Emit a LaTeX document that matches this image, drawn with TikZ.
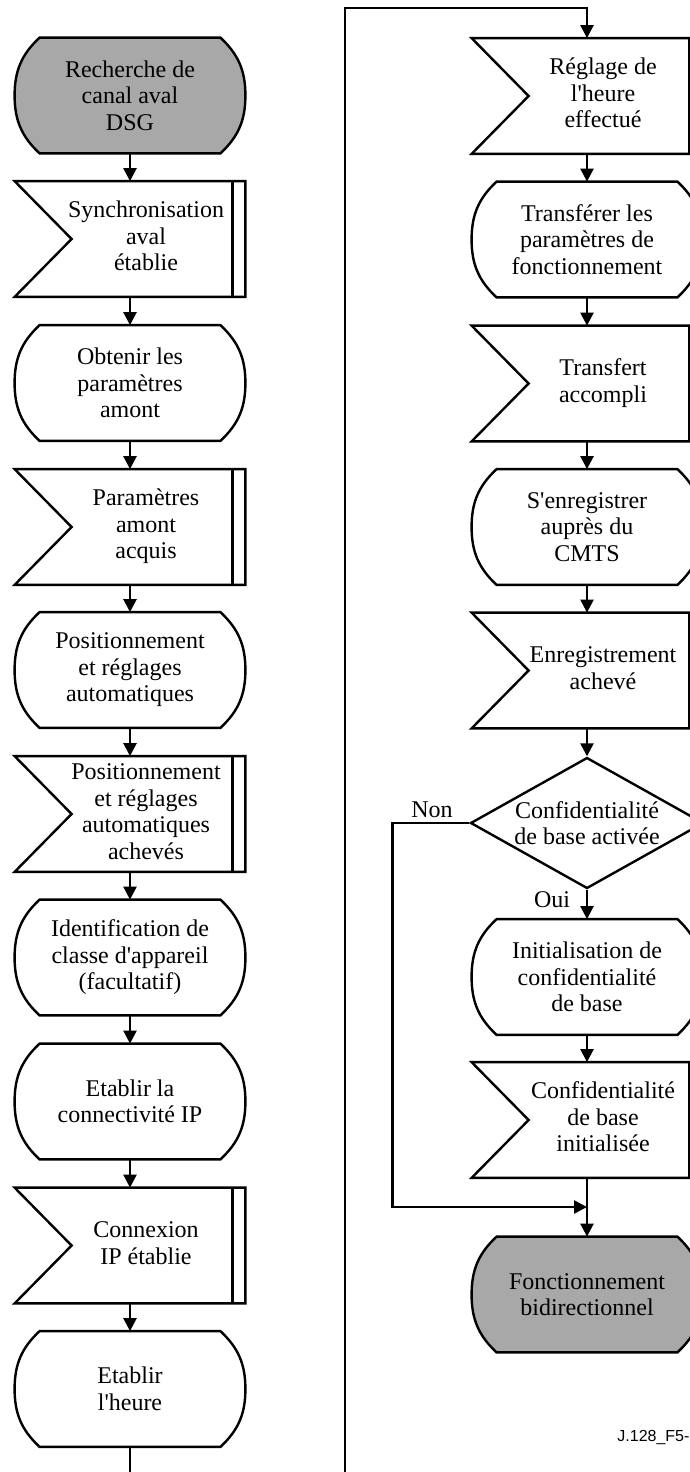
\documentclass[tikz,border=0pt]{standalone}
\usepackage{fontspec}
\setmainfont{Liberation Serif}[Ligatures=TeXOff]
\newfontfamily\figsans{Liberation Sans}
\usetikzlibrary{arrows.meta,shapes.geometric,backgrounds}
\definecolor{termgray}{RGB}{168,168,168}
% text of a receive box, pushed right of the notch
\newcommand{\rtext}[1]{\begin{tabular}{@{\hspace{16pt}}c@{}}#1\end{tabular}}
\tikzset{
  x=0.5pt, y=0.5pt,
  box/.style={rectangle, draw=none, minimum width=115pt, minimum height=57.5pt,
    inner sep=0pt, font=\fontsize{12}{13.25}\selectfont, align=center},
  flow/.style={line width=1.2pt, -{Triangle[width=6.5pt,length=6.5pt]}},
  outline/.style={line width=1.2pt, line join=miter},
  lbl/.style={font=\fontsize{12}{13.25}\selectfont, inner sep=0pt},
}
% terminal outline: flat top and bottom, bulging sides
\newcommand{\termshape}[2]{%
  \draw[outline, fill=#2] ([xshift=12.5pt]#1.north west) -- ([xshift=-12.5pt]#1.north east)
    to[out=-43,in=90] (#1.east) to[out=-90,in=43] ([xshift=-12.5pt]#1.south east)
    -- ([xshift=12.5pt]#1.south west) to[out=137,in=-90] (#1.west)
    to[out=90,in=-137] cycle;}
% receive outline: notched left side, double bar on the right
\newcommand{\recvshape}[1]{%
  \draw[outline, fill=white] (#1.north west) -- (#1.north east) -- (#1.south east)
    -- (#1.south west) -- ([xshift=28.5pt]#1.west) -- cycle;
  \draw[outline] ([xshift=-6.5pt]#1.north east) -- ([xshift=-6.5pt]#1.south east);}
\begin{document}
\begin{tikzpicture}
\useasboundingbox (0,0) rectangle (690,-1472);

% left column
\node[box] (t1) at (130,-95.5)  {Recherche de\\canal aval\\DSG};
\node[box] (r1) at (130,-239)   {\rtext{Synchronisation\\aval\\établie}};
\node[box] (t2) at (130,-383)   {Obtenir les\\paramètres\\amont};
\node[box] (r2) at (130,-527)   {\rtext{Paramètres\\amont\\acquis}};
\node[box] (t3) at (130,-670)   {Positionnement\\et réglages\\automatiques};
\node[box] (r3) at (130,-814)   {\rtext{Positionnement\\et réglages\\automatiques\\achevés}};
\node[box] (t4) at (130,-957.5) {Identification de\\classe d'appareil\\(facultatif)};
\node[box] (t5) at (130,-1101.5){Etablir la\\connectivité IP};
\node[box] (r4) at (130,-1245.5){\rtext{Connexion\\IP établie}};
\node[box] (t6) at (130,-1389)  {Etablir\\l'heure};

% right column
\node[box] (r5) at (587,-96)    {\rtext{Réglage de\\l'heure\\effectué}};
\node[box] (t7) at (587,-239.5) {Transférer les\\paramètres de\\fonctionnement};
\node[box] (r6) at (587,-383.5) {\rtext{Transfert\\accompli}};
\node[box] (t8) at (587,-527)   {S'enregistrer\\auprès du\\CMTS};
\node[box] (r7) at (587,-670.5) {\rtext{Enregistrement\\achevé}};
\node[diamond, draw, line width=1.2pt, fill=white, aspect=1.78,
      minimum width=116.5pt, minimum height=65.5pt, inner sep=0pt,
      font=\fontsize{12}{13.25}\selectfont, align=center]
      (dia) at (587,-823) {Confidentialité\\de base activée};
\node[box] (t9) at (587,-977)   {Initialisation de\\confidentialité\\de base};
\node[box] (r8) at (587,-1120)  {\rtext{Confidentialité\\de base\\initialisée}};
\node[box] (t10) at (587,-1294.5){Fonctionnement\\bidirectionnel};

\node[lbl] (non) at (432,-810) {Non};
\node[lbl] (oui) at (552,-900) {Oui};
\node[font=\figsans\fontsize{8}{9.6}\selectfont, anchor=west, inner sep=0pt]
      (figid) at (617,-1437) {J.128\_F5-};

% outlines behind the texts
\begin{scope}[on background layer]
  \termshape{t1}{termgray}
  \recvshape{r1}
  \termshape{t2}{white}
  \recvshape{r2}
  \termshape{t3}{white}
  \recvshape{r3}
  \termshape{t4}{white}
  \termshape{t5}{white}
  \recvshape{r4}
  \termshape{t6}{white}
  \recvshape{r5}
  \termshape{t7}{white}
  \recvshape{r6}
  \termshape{t8}{white}
  \recvshape{r7}
  \termshape{t9}{white}
  \recvshape{r8}
  \termshape{t10}{termgray}
\end{scope}

% connectors
\draw[flow] (t1) -- (r1);
\draw[flow] (r1) -- (t2);
\draw[flow] (t2) -- (r2);
\draw[flow] (r2) -- (t3);
\draw[flow] (t3) -- (r3);
\draw[flow] (r3) -- (t4);
\draw[flow] (t4) -- (t5);
\draw[flow] (t5) -- (r4);
\draw[flow] (r4) -- (t6);

\coordinate (lb) at (345,-1490);
\coordinate (lt) at (345,-8);
\draw[flow] (t6.south) |- (lb) -- (lt) -| (r5.north);

\draw[flow] (r5) -- (t7);
\draw[flow] (t7) -- (r6);
\draw[flow] (r6) -- (t8);
\draw[flow] (t8) -- (r7);
\draw[flow] (r7) -- (dia);
\draw[flow] (dia) -- (t9);
\draw[flow] (t9) -- (r8);
\draw[flow] (r8) -- (t10);

\coordinate (m) at (587,-1207);
\draw[flow] (dia.west) -- ++(-77,0) |- (m);
\end{tikzpicture}
\end{document}
